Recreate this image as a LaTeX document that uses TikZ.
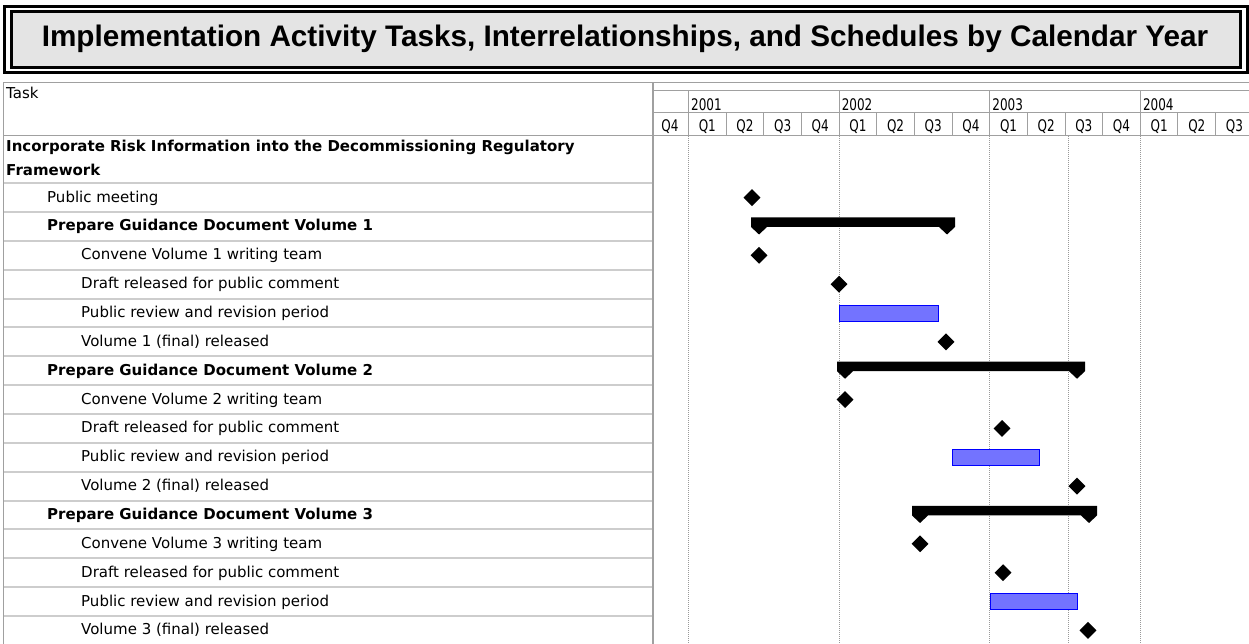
\documentclass[tikz,border=0pt]{standalone}
\usepackage{fontspec}
\setmainfont{DejaVu Sans}
\newfontfamily\titlefont{Liberation Sans}
\newfontfamily\scalefont[FakeStretch=0.75]{DejaVu Sans}
\usetikzlibrary{shapes.geometric}

\definecolor{titlegray}{RGB}{228,228,228}
\definecolor{gridgray}{RGB}{160,160,160}
\definecolor{rulegray}{RGB}{205,205,205}
\definecolor{reviewblue}{RGB}{115,115,255}

\tikzset{
  milestone/.style = {diamond, fill=black, inner sep=0pt, minimum width=17pt, minimum height=17pt},
  review/.style = {draw=blue, fill=reviewblue, line width=1pt},
  task/.style = {anchor=base west, inner sep=0pt, yshift=-4.5pt, font=\fontsize{15}{18}\selectfont},
  group/.style = {task, font=\fontsize{15}{18}\selectfont\bfseries},
  scalelabel/.style = {inner sep=0pt, font=\scalefont\fontsize{16}{18}\selectfont},
  grid/.style = {gridgray, line width=1pt},
  today/.style = {gray!80, line width=1pt, dash pattern=on 1pt off 1pt},
}

% summary bar: start, finish, row
\newcommand\summarybar[3]{%
  \begin{scope}[shift={(0,0 |- r#3)}]
    \fill ({#1-8},-9) -- ({#2+8},-9) -- ({#2+8},0.5) -- (#2,8) -- ({#2-8},0.5)
      -- ({#1+8},0.5) -- (#1,8) -- ({#1-8},0.5) -- cycle;
  \end{scope}}
% review bar: start, finish, row
\newcommand\reviewbar[3]{%
  \begin{scope}[shift={(0,0 |- r#3)}]
    \draw[review] (#1,-8) rectangle (#2,8);
  \end{scope}}

\begin{document}
\begin{tikzpicture}[x=1pt, y=-1pt]
  \useasboundingbox (0,0) rectangle (1249,644);
  \clip (0,0) rectangle (1249,644);

  % title
  \draw[line width=3pt] (4,6.5) rectangle (1247,73);
  \draw[line width=3pt, fill=titlegray] (11.5,12) rectangle (1240.5,67.5);
  \node[anchor=base, inner sep=0pt, font=\titlefont\fontsize{29.7}{32}\selectfont\bfseries] (title) at (625,47)
    {Implementation Activity Tasks, Interrelationships, and Schedules by Calendar Year};

  % rows
  \foreach \k in {1,...,16}
    \coordinate (r\k) at (0,{183.2+(\k-0.5)*28.85});

  % table lines
  \foreach \k in {0,...,16}
    \draw[rulegray, line width=2pt] (3,{183.2+\k*28.85}) -- (653,{183.2+\k*28.85});
  \draw[grid] (3,83) -- (1249,83);
  \draw[grid] (653,91) -- (1249,91);
  \draw[grid] (653,113) -- (1249,113);
  \draw[grid] (3,136) -- (1249,136);
  \draw[grid] (3,83) -- (3,644);
  \draw[grid, line width=2pt] (653,83) -- (653,644);
  \foreach \x in {688.5,839.1,989.7,1140.3}
    \draw[grid] (\x,91) -- (\x,136);
  \foreach \q in {0,...,14}
    \draw[grid] ({688.5+37.65*\q},113) -- ++(0,23);
  \foreach \x in {688.5,839.1,989.7,1068,1140.3}
    \draw[today] (\x,136) -- (\x,644);

  % timescale
  \foreach \yr/\x in {2001/691,2002/841.6,2003/992.2,2004/1142.8}
    \node[scalelabel, anchor=base west] (y\yr) at (\x,110.3) {\yr};
  \node[scalelabel, anchor=base] (qstart) at (670,132) {Q4};
  \foreach \q in {0,...,14} {
    \pgfmathtruncatemacro\qn{mod(\q,4)+1}
    \node[scalelabel, anchor=base] (q\q) at ({688.5+37.65*(\q+0.5)},132) {Q\qn};
  }

  % task names
  \node[task, yshift=4.5pt] (head) at (6,99) {Task};
  \node[anchor=north west, inner sep=0pt, align=left, font=\fontsize{15}{24}\selectfont\bfseries] (task0) at (6,139.5)
    {Incorporate Risk Information into the Decommissioning Regulatory\\Framework};
  \node[task] (task1) at (47,0 |- r1) {Public meeting};
  \foreach \k/\t in {2/Prepare Guidance Document Volume 1,7/Prepare Guidance Document Volume 2,12/Prepare Guidance Document Volume 3}
    \node[group] (task\k) at (47,0 |- r\k) {\t};
  \foreach \k/\t in {3/Convene Volume 1 writing team,4/Draft released for public comment,
    5/Public review and revision period,6/Volume 1 (final) released,
    8/Convene Volume 2 writing team,9/Draft released for public comment,
    10/Public review and revision period,11/Volume 2 (final) released,
    13/Convene Volume 3 writing team,14/Draft released for public comment,
    15/Public review and revision period,16/Volume 3 (final) released}
    \node[task] (task\k) at (81,0 |- r\k) {\t};

  % bars
  \summarybar{759}{947}{2}
  \summarybar{845}{1077}{7}
  \summarybar{920}{1089}{12}
  \reviewbar{839}{938}{5}
  \reviewbar{952}{1039}{10}
  \reviewbar{990}{1077}{15}

  % milestones
  \foreach \k/\x in {1/752,3/759,4/839,6/946,8/845,9/1002,11/1077,13/920,14/1003,16/1088}
    \node[milestone] (m\k) at (\x,0 |- r\k) {};
\end{tikzpicture}
\end{document}
